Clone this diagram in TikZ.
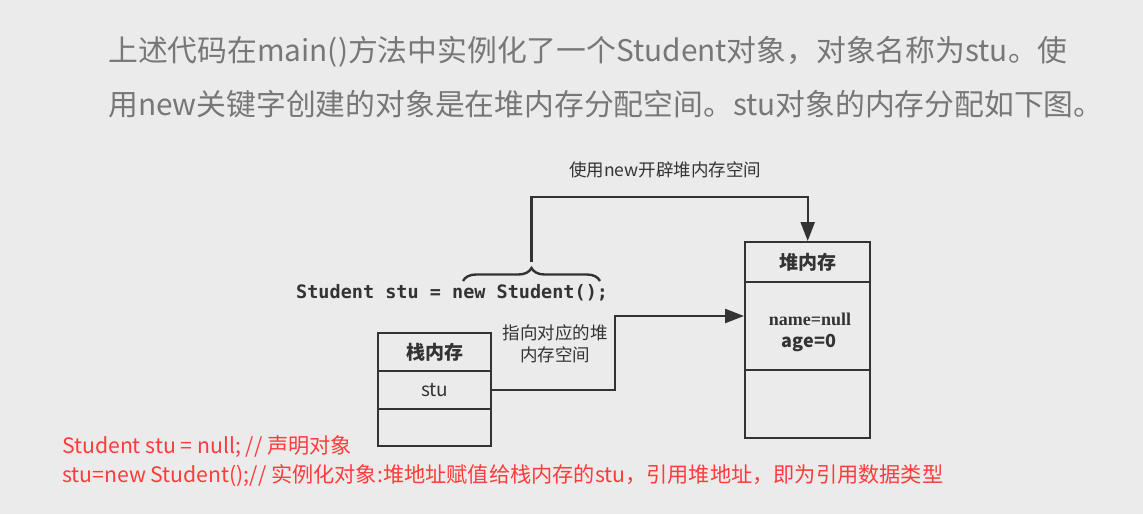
\documentclass[tikz,border=0pt]{standalone}
\usepackage{fontspec}
\setmainfont{Noto Sans CJK SC}
\newfontfamily\cjk{Noto Sans CJK SC}
\newfontfamily\codefont{DejaVu Sans Mono}
\newfontfamily\serifb{Liberation Serif}
\usetikzlibrary{arrows.meta,decorations.pathreplacing}
\definecolor{bg}{HTML}{EBEBEB}
\definecolor{titlegray}{HTML}{777777}
\definecolor{ink}{HTML}{333333}
\definecolor{redtxt}{HTML}{FF3B3B}
\begin{document}
\begin{tikzpicture}[x=1pt,y=-1pt,
  cell/.style={draw=ink,line width=2.4pt,inner sep=0pt,anchor=north west},
  conn/.style={draw=ink,line width=2.4pt,-{Triangle[length=19pt,width=14pt]}},
  lbl/.style={text=ink,font=\cjk\fontsize{17.5}{22}\selectfont,align=center,inner sep=0pt},
  title/.style={text=titlegray,font=\cjk\fontsize{29.8}{34}\selectfont,anchor=west,inner sep=0pt},
  redline/.style={text=redtxt,font=\cjk\fontsize{21.2}{25}\selectfont,anchor=west,inner sep=0pt}]
\fill[bg] (0,0) rectangle (1143,514);
\useasboundingbox (0,0) rectangle (1143,514);
% title
\node[title] (t1) at (108,52) {上述代码在main()方法中实例化了一个Student对象，对象名称为stu。使};
\node[title] (t2) at (108,104) {用new关键字创建的对象是在堆内存分配空间。stu对象的内存分配如下图。};
% stack
\node[cell,minimum width=113pt,minimum height=38pt] (sh) at (377,332) {};
\node[cell,minimum width=113pt,minimum height=38pt] (ss) at (377,370) {};
\node[cell,minimum width=113pt,minimum height=37pt] (se) at (377,408) {};
\node[lbl,font=\cjk\bfseries\fontsize{19}{22}\selectfont] at (sh.center) {栈内存};
\node[lbl,font=\cjk\fontsize{19}{22}\selectfont] (stu) at (ss.center) {stu};
% heap
\node[cell,minimum width=125pt,minimum height=40pt] (hh) at (744,241) {};
\node[cell,minimum width=125pt,minimum height=88pt] (hb) at (744,281) {};
\node[cell,minimum width=125pt,minimum height=68pt] (he) at (744,369) {};
\node[lbl,font=\cjk\bfseries\fontsize{19}{22}\selectfont] at (hh.center) {堆内存};
\node[lbl,font=\serifb\bfseries\fontsize{18}{20}\selectfont] (nm) at (810,319) {name=null};
\node[lbl,font=\cjk\bfseries\fontsize{18}{20}\selectfont] (ag) at (809,343) {age=0};
% code
\node[anchor=west,inner sep=0pt,text=ink,font=\codefont\bfseries\fontsize{18.5}{20}\selectfont] (code) at (296,293) {Student stu = new Student();};
% brace
\coordinate (bl) at (463,281);
\coordinate (br) at (600,281);
\draw[ink,line width=2.4pt,decorate,decoration={brace,amplitude=13pt}] (bl) -- (br);
\coordinate (btip) at (531.5,262);
\coordinate (topturn) at (531.5,197);
\draw[conn] (btip) -- (topturn) -| (hh.north);
\node[lbl] (toplbl) at (665,170) {使用new开辟堆内存空间};
% stack to heap
\coordinate (mid) at (615,316);
\draw[conn] (ss.east) -| (mid) -- (hb.west |- mid);
\node[lbl,align=center] (ptr) at (555,344) {指向对应的堆\\内存空间};
% red text
\node[redline] (r1) at (62,447) {Student stu = null; // 声明对象};
\node[redline] (r2) at (62,476) {stu=new Student();// 实例化对象:堆地址赋值给栈内存的stu，引用堆地址，即为引用数据类型};
\end{tikzpicture}
\end{document}
